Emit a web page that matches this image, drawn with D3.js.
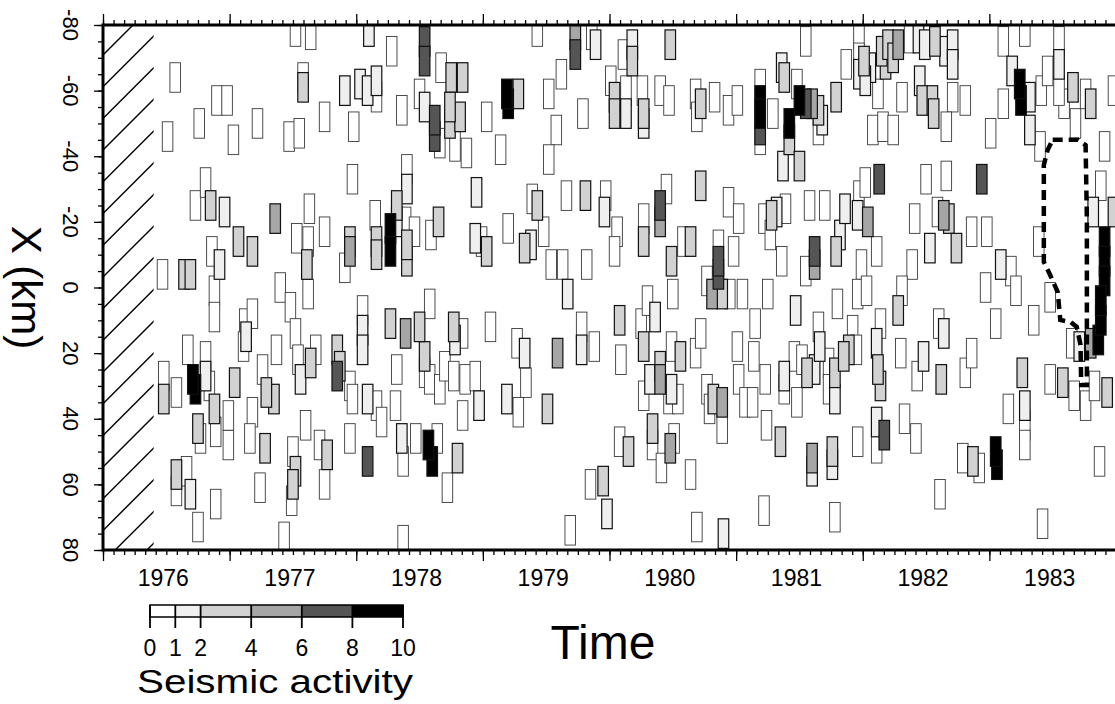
<!DOCTYPE html>
<html>
<head>
<meta charset="utf-8">
<title>Seismic activity, X versus time</title>
<script src="https://cdn.jsdelivr.net/npm/d3@7"></script>
<style>
  body { margin: 0; background: #fff; }
  svg text { font-family: "Liberation Sans", Arial, Helvetica, sans-serif; fill: #000; }
</style>
</head>
<body>
<div id="chart"></div>
<script>
// years on the time axis, X positions along the zone (km)
var years = [1976, 1977, 1978, 1979, 1980, 1981, 1982, 1983];
var xLabels = [-80, -60, -40, -20, 0, 20, 40, 60, 80];
var legendTicks = [0, 1, 2, 4, 6, 8, 10];
var levelBreaks = [1, 2, 4, 6, 8];
var dataStart = 1976.4;   // no data before this (hatched)

// each box: [time (yr), X (km), seismic activity]
var boxes1976 = [
  [1976.57,-64,0],[1976.90,-57,0],[1976.98,-57,0],[1976.76,-50,0],[1976.51,-46,0],[1976.73,-25,0],[1976.81,-32,0],
  [1976.85,-25,3],[1976.96,-23,1],[1976.86,-11,0],[1976.92,-7,1],[1976.47,-4,0],[1976.64,-4,3],[1976.69,-4,3],
  [1976.48,27,0],[1976.48,34,2],[1976.58,32,0],[1976.67,19,0],[1976.71,28,10],[1976.73,31,9],[1976.81,21,0],
  [1976.81,27,1],[1976.75,43,2],[1976.77,46,0],[1976.84,30,0],[1976.88,37,2],[1976.89,44,0],[1976.99,48,0],
  [1976.99,39,0],[1976.88,1,0],[1976.88,9,0],[1976.89,66,0],[1976.58,57,2],[1976.58,62,0],[1976.66,56,0],
  [1976.69,63,1],[1976.75,73,0]
];
var boxes1977 = [
  [1977.52,-78,0],[1977.64,-77,0],[1977.03,-45,0],[1977.22,-50,0],[1977.47,-46,0],[1977.55,-47,0],[1977.58,-64,0],
  [1977.58,-61,3],[1977.75,-52,0],[1977.91,-60,1],[1977.98,-49,0],[1977.97,-33,0],[1977.36,-21,5],[1977.63,-24,0],
  [1977.07,-14,3],[1977.18,-11,3],[1977.53,-15,0],[1977.62,-14,0],[1977.61,-7,3],[1977.75,-17,0],[1977.91,-6,0],
  [1977.95,-14,3],[1977.95,-11,5],[1977.04,29,2],[1977.12,11,0],[1977.18,8,0],[1977.13,15,1],[1977.11,18,0],
  [1977.18,38,0],[1977.16,46,0],[1977.28,49,3],[1977.29,32,3],[1977.35,34,2],[1977.26,25,0],[1977.37,19,0],
  [1977.40,0,0],[1977.48,6,0],[1977.50,50,0],[1977.52,56,2],[1977.50,60,3],[1977.49,65,0],[1977.52,14,0],
  [1977.54,22,0],[1977.56,28,1],[1977.62,2,0],[1977.60,42,0],[1977.64,23,3],[1977.68,19,0],[1977.71,48,0],
  [1977.77,51,3],[1977.75,60,0],[1977.43,76,0],[1977.24,61,0],[1977.85,19,2],[1977.85,27,7],[1977.87,24,3],
  [1977.95,30,0],[1977.97,34,0],[1977.95,46,0]
];
var boxes1978 = [
  [1978.10,-78,1],[1978.03,-62,1],[1978.09,-60,1],[1978.28,-72,0],[1978.54,-75,6],[1978.54,-69,7],[1978.67,-67,0],
  [1978.75,-64,3],[1978.84,-64,2],[1978.16,-63,1],[1978.16,-58,0],[1978.50,-59,0],[1978.54,-55,1],[1978.36,-54,0],
  [1978.62,-51,7],[1978.62,-46,6],[1978.66,-44,0],[1978.74,-55,3],[1978.74,-50,2],[1978.82,-52,2],[1978.78,-43,0],
  [1978.87,-41,0],[1978.40,-36,0],[1978.40,-30,1],[1978.15,-22,0],[1978.16,-14,2],[1978.16,-10,2],[1978.27,-18,9],
  [1978.27,-11,9],[1978.32,-25,2],[1978.32,-20,1],[1978.39,-20,0],[1978.40,-13,3],[1978.40,-8,2],[1978.46,-17,0],
  [1978.59,-16,0],[1978.65,-20,2],[1978.95,-29,1],[1978.94,-15,1],[1978.99,-14,0],[1978.05,7,0],[1978.05,13,1],
  [1978.05,19,1],[1978.09,34,1],[1978.09,53,7],[1978.16,36,0],[1978.27,11,3],[1978.39,14,5],[1978.50,12,3],
  [1978.58,5,0],[1978.54,21,2],[1978.54,26,0],[1978.58,28,0],[1978.66,31,0],[1978.70,24,0],[1978.77,27,0],
  [1978.77,12,3],[1978.78,16,1],[1978.84,14,0],[1978.86,28,0],[1978.94,27,0],[1978.97,36,1],[1978.84,39,0],
  [1978.32,25,0],[1978.31,36,0],[1978.20,41,0],[1978.36,46,1],[1978.37,53,0],[1978.47,46,0],[1978.57,48,9],
  [1978.60,53,8],[1978.64,46,0],[1978.80,52,3],[1978.72,61,0],[1978.37,77,0]
];
var boxes1979 = [
  [1979.19,-59,10],[1979.20,-56,9],[1979.28,-59,3],[1979.03,-52,0],[1979.14,-42,0],[1979.43,-78,0],[1979.52,-59,0],
  [1979.62,-65,0],[1979.73,-77,4],[1979.73,-71,7],[1979.86,-77,0],[1979.89,-74,1],[1979.58,-48,0],[1979.52,-39,0],
  [1979.79,-53,0],[1979.03,-11,2],[1979.20,-18,0],[1979.33,-12,3],[1979.38,-13,1],[1979.43,-25,2],[1979.39,-27,0],
  [1979.48,-17,0],[1979.54,-7,0],[1979.63,-7,0],[1979.66,-28,0],[1979.81,-28,3],[1979.82,-7,0],[1979.97,-28,0],
  [1979.96,-23,1],[1979.06,12,0],[1979.27,17,0],[1979.33,20,1],[1979.34,29,0],[1979.19,34,1],[1979.28,38,0],
  [1979.51,37,2],[1979.59,20,4],[1979.78,12,0],[1979.78,19,1],[1979.88,18,0],[1979.67,2,1],[1979.85,60,0],
  [1979.95,59,3],[1979.98,69,1],[1979.69,74,0]
];
var boxes1980 = [
  [1980.01,-63,0],[1980.04,-58,2],[1980.04,-53,3],[1980.11,-71,0],[1980.18,-74,1],[1980.18,-69,2],[1980.13,-60,0],
  [1980.13,-53,1],[1980.26,-60,0],[1980.27,-53,2],[1980.27,-50,1],[1980.40,-60,0],[1980.47,-57,0],[1980.48,-74,2],
  [1980.68,-59,0],[1980.69,-52,0],[1980.72,-56,3],[1980.83,-58,0],[1980.94,-54,0],[1980.06,-17,0],[1980.04,-11,0],
  [1980.27,-21,0],[1980.27,-14,2],[1980.40,-25,6],[1980.40,-20,5],[1980.45,-30,0],[1980.49,-8,3],[1980.58,-14,0],
  [1980.64,-14,2],[1980.72,-31,3],[1980.94,-26,0],[1980.86,-8,7],[1980.86,-4,6],[1980.77,-2,0],[1980.86,-13,0],
  [1980.98,-11,0],[1980.08,10,2],[1980.09,22,0],[1980.25,11,0],[1980.27,18,2],[1980.30,4,0],[1980.36,9,1],
  [1980.50,2,0],[1980.81,2,4],[1980.89,2,2],[1980.95,2,0],[1980.49,18,0],[1980.56,21,3],[1980.68,20,0],
  [1980.72,14,0],[1980.27,33,0],[1980.32,28,1],[1980.40,28,4],[1980.40,24,2],[1980.47,34,0],[1980.49,31,1],
  [1980.54,34,0],[1980.34,43,3],[1980.34,48,0],[1980.41,55,0],[1980.48,49,4],[1980.51,46,0],[1980.64,57,0],
  [1980.08,47,0],[1980.15,50,3],[1980.69,73,0],[1980.90,75,1],[1980.77,31,0],[1980.79,37,0],[1980.82,34,2],
  [1980.89,35,5],[1980.89,43,0]
];
var boxes1981 = [
  [1981.01,-57,0],[1981.55,-75,0],[1981.36,-67,1],[1981.38,-64,2],[1981.19,-62,0],[1981.19,-57,9],[1981.19,-53,9],
  [1981.19,-48,7],[1981.19,-45,0],[1981.29,-53,0],[1981.42,-50,8],[1981.42,-45,3],[1981.50,-57,9],[1981.55,-56,7],
  [1981.48,-62,0],[1981.60,-56,4],[1981.65,-54,3],[1981.68,-51,1],[1981.65,-48,0],[1981.79,-58,3],[1981.37,-37,1],
  [1981.50,-37,3],[1981.87,-68,0],[1981.97,-77,0],[1981.97,-70,0],[1981.97,-65,1],[1981.02,-21,0],[1981.22,-21,0],
  [1981.28,-22,2],[1981.32,-23,1],[1981.39,-24,0],[1981.27,-16,0],[1981.36,-8,0],[1981.58,-25,0],[1981.70,-25,0],
  [1981.62,-11,6],[1981.62,-7,4],[1981.55,-5,0],[1981.79,-11,2],[1981.82,-16,1],[1981.86,-24,1],[1981.97,-28,0],
  [1981.96,-22,1],[1981.99,-7,0],[1981.01,18,0],[1981.02,28,0],[1981.07,35,0],[1981.05,2,0],[1981.25,2,0],
  [1981.15,11,0],[1981.47,7,1],[1981.14,21,0],[1981.23,28,0],[1981.13,35,0],[1981.38,31,0],[1981.38,27,1],
  [1981.46,21,0],[1981.52,22,0],[1981.48,35,0],[1981.56,26,3],[1981.62,25,1],[1981.65,12,0],[1981.66,18,1],
  [1981.73,23,0],[1981.73,31,0],[1981.78,26,3],[1981.78,34,1],[1981.80,5,0],[1981.85,21,3],[1981.89,19,2],
  [1981.92,13,0],[1981.95,19,0],[1981.96,2,0],[1981.24,42,0],[1981.35,47,3],[1981.60,52,5],[1981.60,56,1],
  [1981.76,50,3],[1981.76,54,1],[1981.96,47,0],[1981.22,68,0],[1981.78,70,0]
];
var boxes1982 = [
  [1982.01,-69,2],[1982.06,-67,1],[1982.02,-63,1],[1982.12,-59,0],[1982.15,-72,3],[1982.20,-74,3],[1982.24,-70,3],
  [1982.18,-68,2],[1982.28,-74,4],[1982.31,-58,0],[1982.37,-76,0],[1982.44,-76,1],[1982.49,-74,1],[1982.45,-63,1],
  [1982.47,-57,2],[1982.55,-57,3],[1982.56,-53,3],[1982.57,-75,2],[1982.65,-72,1],[1982.71,-74,1],[1982.71,-68,1],
  [1982.71,-58,0],[1982.81,-57,0],[1982.66,-49,0],[1982.08,-48,0],[1982.16,-49,0],[1982.24,-48,0],[1982.04,-20,5],
  [1982.02,-32,0],[1982.13,-33,6],[1982.11,-11,0],[1982.39,-7,0],[1982.41,-21,0],[1982.50,-33,0],[1982.53,-12,1],
  [1982.66,-34,0],[1982.59,-23,0],[1982.64,-22,5],[1982.68,-21,3],[1982.74,-12,3],[1982.94,-33,6],[1982.86,-17,0],
  [1982.98,-17,0],[1982.03,1,0],[1982.14,11,0],[1982.11,17,1],[1982.12,25,3],[1982.14,30,2],[1982.28,7,3],
  [1982.31,1,0],[1982.30,20,0],[1982.43,27,0],[1982.48,21,1],[1982.60,11,0],[1982.64,14,1],[1982.81,26,0],
  [1982.86,20,0],[1982.62,28,3],[1982.97,0,0],[1982.11,41,1],[1982.11,49,0],[1982.17,45,6],[1982.33,40,0],
  [1982.42,46,0],[1982.79,52,0],[1982.87,53,3],[1982.92,55,0],[1982.61,63,0]
];
var boxes1983 = [
  [1983.01,-47,0],[1983.11,-75,0],[1983.28,-78,0],[1983.18,-66,1],[1983.11,-56,0],[1983.24,-62,10],[1983.25,-57,9],
  [1983.32,-58,1],[1983.32,-48,1],[1983.40,-43,0],[1983.41,-60,0],[1983.46,-66,0],[1983.55,-75,0],[1983.55,-68,1],
  [1983.59,-56,0],[1983.55,-60,0],[1983.66,-61,3],[1983.68,-50,0],[1983.76,-59,0],[1983.80,-56,3],[1983.91,-43,0],
  [1983.98,-60,0],[1983.09,-7,1],[1983.17,-5,0],[1983.39,-14,0],[1983.82,-23,1],[1983.88,-31,0],[1983.98,-23,2],
  [1983.91,-14,10],[1983.91,-8,10],[1983.91,-2,10],[1983.05,11,0],[1983.21,1,0],[1983.26,26,2],[1983.35,10,0],
  [1983.48,3,0],[1983.65,17,0],[1983.71,18,1],[1983.88,4,10],[1983.88,10,9],[1983.86,16,8],[1983.80,17,4],
  [1983.58,29,2],[1983.48,28,0],[1983.67,33,0],[1983.76,36,0],[1983.83,30,0],[1983.93,32,2],[1983.05,50,9],
  [1983.06,54,8],[1983.15,37,0],[1983.28,36,1],[1983.28,42,0],[1983.28,48,0],[1983.87,53,0],[1983.42,72,0]
];

// outline of the dashed zone in 1983: [time, X]
var dashedZone = [
  [1983.50,-45],[1983.70,-45],[1983.76,-43.4],[1983.77,-20.6],[1983.77,9.9],[1983.77,29.7],[1983.725,29.7],
  [1983.72,17.5],[1983.69,12.0],[1983.64,10.5],[1983.56,9.9],[1983.54,1.4],[1983.48,-3.8],[1983.43,-7.8],
  [1983.43,-37.3],[1983.46,-41.9]
];

var boxMonths = 1, boxKm = 9;

function drawChart() {
  var width = 1115, height = 704;
  var left = 103, top = 25, right = 1116, bottom = 550;

  var svg = d3.select("#chart").append("svg")
    .attr("width", width)
    .attr("height", height);

  var x = d3.scaleLinear().domain([1976, 1984]).range([left, right]);
  var y = d3.scaleLinear().domain([-80, 80]).range([top, bottom]);

  var fills = ["#ffffff", "#efefef", "#d2d2d2", "#a6a6a6", "#555555", "#000000"];
  var level = d3.scaleThreshold().domain(levelBreaks).range(d3.range(fills.length));

  svg.append("clipPath").attr("id", "plotclip")
    .append("rect").attr("x", left).attr("y", top)
    .attr("width", right - left).attr("height", bottom - top);

  // hatched period before the data start
  var hatch = svg.append("g").attr("clip-path", "url(#hatchclip)");
  svg.append("clipPath").attr("id", "hatchclip")
    .append("rect").attr("x", left).attr("y", top)
    .attr("width", x(dataStart) - left).attr("height", bottom - top);
  hatch.selectAll("line").data(d3.range(-2, 19)).enter().append("line")
    .attr("x1", left).attr("y1", function(k) { return 55 + k * 31.7; })
    .attr("x2", left + 300).attr("y2", function(k) { return 55 + k * 31.7 - 300; })
    .attr("stroke", "#000").attr("stroke-width", 1.4);

  // boxes, quiet ones first so the active ones sit on top
  var boxes = [].concat(boxes1976, boxes1977, boxes1978, boxes1979, boxes1980, boxes1981, boxes1982, boxes1983);
  boxes.sort(function(a, b) { return a[2] - b[2]; });
  var half = boxMonths / 24;
  svg.append("g").attr("clip-path", "url(#plotclip)")
    .selectAll("rect").data(boxes).enter().append("rect")
    .attr("x", function(d) { return x(d[0] - half); })
    .attr("y", function(d) { return y(d[1] - boxKm / 2); })
    .attr("width", function(d) { return x(d[0] + half) - x(d[0] - half); })
    .attr("height", function(d) { return y(d[1] + boxKm / 2) - y(d[1] - boxKm / 2); })
    .attr("fill", function(d) { return fills[level(d[2])]; })
    .attr("stroke", function(d) { return d[2] < 1 ? "#3a3a3a" : "#111"; })
    .attr("stroke-width", function(d) { return d[2] < 1 ? 0.9 : 1.2; });

  // dashed zone
  svg.append("path")
    .datum(dashedZone)
    .attr("d", d3.line().x(function(d) { return x(d[0]); }).y(function(d) { return y(d[1]); }).curve(d3.curveLinearClosed))
    .attr("fill", "none").attr("stroke", "#000")
    .attr("stroke-width", 4.5).attr("stroke-dasharray", "10,6");

  // time axes, monthly minor ticks
  var months = d3.range(0, 96).map(function(i) { return 1976 + i / 12; });
  var yearEdges = d3.range(1976, 1985);
  function timeAxis(axisFn, ypos) {
    svg.append("g").attr("transform", "translate(0," + ypos + ")")
      .call(axisFn(x).tickValues(months).tickSize(5).tickFormat(""))
      .call(function(g) { g.select(".domain").remove(); });
    svg.append("g").attr("transform", "translate(0," + ypos + ")")
      .call(axisFn(x).tickValues(yearEdges).tickSize(11).tickFormat(""))
      .call(function(g) { g.select(".domain").remove(); });
  }
  timeAxis(d3.axisBottom, bottom);
  timeAxis(d3.axisTop, top);

  // X axis, ticks every 5 km
  svg.append("g").attr("transform", "translate(" + left + ",0)")
    .call(d3.axisLeft(y).tickValues(d3.range(-80, 81, 5)).tickSize(5).tickFormat(""))
    .call(function(g) { g.select(".domain").remove(); });
  svg.append("g").attr("transform", "translate(" + left + ",0)")
    .call(d3.axisLeft(y).tickValues(xLabels).tickSize(9).tickFormat(""))
    .call(function(g) { g.select(".domain").remove(); });
  svg.selectAll(".tick line").attr("stroke", "#000").attr("stroke-width", 1.3);

  // frame lines
  svg.append("line").attr("x1", left).attr("x2", right).attr("y1", top).attr("y2", top)
    .attr("stroke", "#000").attr("stroke-width", 3);
  svg.append("line").attr("x1", left).attr("x2", right).attr("y1", bottom).attr("y2", bottom)
    .attr("stroke", "#000").attr("stroke-width", 3);
  svg.append("line").attr("x1", left).attr("x2", left).attr("y1", top - 1.5).attr("y2", bottom + 1.5)
    .attr("stroke", "#000").attr("stroke-width", 3);

  // year labels, centred on each year
  svg.selectAll(".year").data(years).enter().append("text")
    .attr("x", function(d) { return x(d + 0.5) - 3; })
    .attr("y", 586)
    .attr("text-anchor", "middle")
    .attr("font-size", 23)
    .text(function(d) { return d; });

  // X labels, rotated
  svg.selectAll(".xlab").data(xLabels).enter().append("text")
    .attr("transform", function(d) { return "translate(63," + y(d) + ") rotate(90)"; })
    .attr("text-anchor", "middle")
    .attr("font-size", 22)
    .text(function(d) { return d; });

  svg.append("text")
    .attr("transform", "translate(12," + y(0) + ") rotate(90)")
    .attr("text-anchor", "middle")
    .attr("font-size", 42)
    .text("X (km)");

  svg.append("text")
    .attr("x", 603).attr("y", 659)
    .attr("text-anchor", "middle")
    .attr("font-size", 48)
    .text("Time");

  // legend
  var lx = d3.scaleLinear().domain([0, 10]).range([150, 403]);
  var segs = d3.pairs([0].concat(levelBreaks).concat([10]));
  var legend = svg.append("g");
  legend.selectAll("rect").data(segs).enter().append("rect")
    .attr("x", function(d) { return lx(d[0]); })
    .attr("y", 605)
    .attr("width", function(d) { return lx(d[1]) - lx(d[0]); })
    .attr("height", 12)
    .attr("fill", function(d, i) { return fills[i]; });
  legend.append("rect").attr("x", lx(0)).attr("y", 605)
    .attr("width", lx(10) - lx(0)).attr("height", 12)
    .attr("fill", "none").attr("stroke", "#000").attr("stroke-width", 1.5);
  legend.selectAll("line").data(legendTicks).enter().append("line")
    .attr("x1", function(d) { return lx(d); }).attr("x2", function(d) { return lx(d); })
    .attr("y1", 605).attr("y2", 628)
    .attr("stroke", "#000").attr("stroke-width", 1.8);
  legend.selectAll("text").data(legendTicks).enter().append("text")
    .attr("x", function(d) { return lx(d); })
    .attr("y", 656)
    .attr("text-anchor", "middle")
    .attr("font-size", 23)
    .text(function(d) { return d; });
  legend.append("text")
    .attr("x", 137).attr("y", 693)
    .attr("font-size", 34)
    .attr("textLength", 276).attr("lengthAdjust", "spacingAndGlyphs")
    .text("Seismic activity");
}

drawChart();
</script>
</body>
</html>
